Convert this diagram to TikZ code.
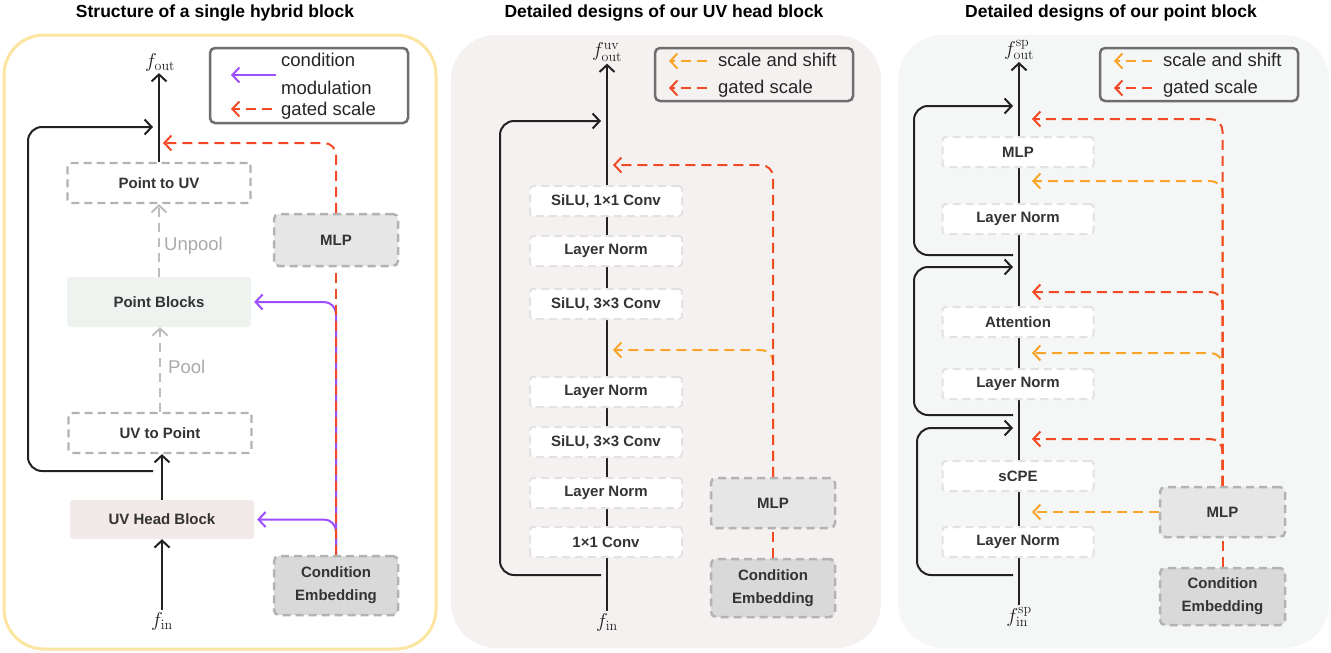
\RequirePackage{fix-cm}
\documentclass[tikz,border=0pt]{standalone}
\usepackage[no-math]{fontspec}
\newfontfamily\lab{Liberation Sans}
\usetikzlibrary{arrows.meta}
\definecolor{ink}{HTML}{222222}
\definecolor{txt}{HTML}{333333}
\definecolor{redc}{HTML}{F24A25}
\definecolor{orac}{HTML}{F9A52C}
\definecolor{purp}{HTML}{9D4EFF}
\definecolor{poolc}{HTML}{BDBDBD}
\definecolor{edgew}{HTML}{E2E2E2}
\definecolor{edgeg}{HTML}{B3B3B3}
\definecolor{mlpf}{HTML}{E6E6E6}
\definecolor{condf}{HTML}{D9D9D9}
\definecolor{legc}{HTML}{6E6E6E}
\definecolor{yelc}{HTML}{FCE5A0}
\definecolor{bgtwo}{HTML}{F5F1F0}
\definecolor{bgthree}{HTML}{F5F7F6}
\definecolor{uvhf}{HTML}{F2EAE9}
\definecolor{pbf}{HTML}{EEF3F0}
\begin{document}
\begin{tikzpicture}[x=1pt,y=-1pt,
 title/.style={font=\lab\bfseries\fontsize{17.5}{20}\selectfont, text=black, inner sep=0pt},
 boxtxt/.style={font=\lab\bfseries\fontsize{15}{18}\selectfont, text=txt, align=center, inner sep=0pt},
 wbox/.style={boxtxt, draw=edgew, fill=white, line width=2pt, dash pattern=on 8pt off 5pt, rounded corners=3pt, minimum width=152pt, minimum height=30pt},
 gbox/.style={boxtxt, draw=edgeg, line width=2.5pt, dash pattern=on 8pt off 5pt, rounded corners=5pt, minimum width=124pt},
 mlpbox/.style={gbox, fill=mlpf, minimum height=50pt},
 condbox/.style={gbox, fill=condf, minimum height=58pt, font=\lab\bfseries\fontsize{15}{23}\selectfont},
 hboxa/.style={boxtxt, draw=edgeg, line width=2.2pt, dash pattern=on 8pt off 5pt, rounded corners=3pt, fill=white, minimum width=183pt, minimum height=40pt},
 plainbox/.style={boxtxt, rounded corners=3pt, minimum width=184pt},
 legbox/.style={draw=legc, line width=2.5pt, rounded corners=5pt, minimum width=198pt, inner sep=0pt},
 legtxt/.style={font=\lab\fontsize{18.5}{20}\selectfont, text=black!85, anchor=mid west, inner sep=0pt},
 graylbl/.style={font=\lab\fontsize{18.5}{20}\selectfont, text=poolc!90!black, anchor=mid west, inner sep=0pt},
 mathlbl/.style={font=\fontsize{20}{20}\selectfont, text=ink, inner sep=2pt},
 tip/.style={-{Straight Barb[length=7pt,width=15pt]}},
 mainln/.style={draw=ink, line width=2pt},
 skipln/.style={mainln, rounded corners=14pt, tip},
 gateln/.style={draw=redc, line width=2pt, dash pattern=on 10pt off 6pt, rounded corners=12pt},
 shiftln/.style={gateln, draw=orac},
 modln/.style={draw=purp, line width=2pt, rounded corners=12pt},
 poolln/.style={draw=poolc, line width=2pt, dash pattern=on 9pt off 6pt, tip}
]
\useasboundingbox (0,0) rectangle (1331,653);
% panels
\draw[yelc, line width=3pt, fill=white, rounded corners=40pt] (4,35) rectangle (436,649);
\fill[bgtwo, rounded corners=45pt] (451,35) rectangle (881,648);
\fill[bgthree, rounded corners=45pt] (898,35) rectangle (1329,648);
\node[title] (t1) at (215,13) {Structure of a single hybrid block};
\node[title] (t2) at (664,13) {Detailed designs of our UV head block};
\node[title] (t3) at (1111,13) {Detailed designs of our point block};

% ---------------- panel 1
\node[mathlbl] (fout1) at (160,62) {$f_{\mathrm{out}}$};
\node[mathlbl] (fin1) at (162,621) {$f_{\mathrm{in}}$};
\node[hboxa] (p2uv) at (159,183) {Point to UV};
\node[plainbox, fill=pbf, minimum height=50pt] (pb) at (159,302) {Point Blocks};
\node[hboxa] (uv2p) at (160,433) {UV to Point};
\node[plainbox, fill=uvhf, minimum height=39pt] (uvh) at (162,519.5) {UV Head Block};
\node[mlpbox, minimum height=52pt] (mlp1) at (336,240) {MLP};
\node[condbox, minimum height=59pt] (cond1) at (336,585.5) {Condition\\Embedding};
\node[graylbl] (unp) at (164,248) {Unpool};
\node[graylbl] (pl) at (168,371) {Pool};

\draw[mainln, tip] (fin1.north) -- (fin1.north |- uvh.south);
\draw[mainln, tip] (uvh.north) -- (uvh.north |- uv2p.south);
\draw[poolln] (uv2p.north) -- (uv2p.north |- pb.south);
\draw[poolln] (pb.north) -- (pb.north |- p2uv.south);
\draw[mainln, tip] (p2uv.north) -- (p2uv.north |- fout1.south);
\coordinate (sk1a) at (153,471);
\coordinate (sk1c) at (28,127);
\coordinate (sk1b) at (153,127);
\draw[skipln] (sk1a) -| (sk1c) -- (sk1b);
\draw[modln, tip] (cond1.north) |- ([xshift=3pt]pb.east);
\draw[modln, tip] (cond1.north) |- ([xshift=3pt]uvh.east);
\coordinate (g1) at (163,143);
\draw[gateln, tip] (mlp1.north) |- (g1);
\draw[gateln] (cond1.north) -- (mlp1.south);

\node[legbox, minimum height=75pt] (leg1) at (309,85.5) {};
\coordinate (l1a) at (276,75); \coordinate (l1b) at (231,75);
\draw[modln, tip] (l1a) -- (l1b);
\coordinate (l1c) at (272,109); \coordinate (l1d) at (231,109);
\draw[gateln, tip] (l1c) -- (l1d);
\node[legtxt] (lt1) at (281,64) {condition};
\node[legtxt] (lt2) at (281,92) {modulation};
\node[legtxt] (lt3) at (281,113) {gated scale};

% ---------------- panel 2
\node[mathlbl] (fout2) at (607,52) {$f^{\mathrm{uv}}_{\mathrm{out}}$};
\node[mathlbl] (fin2) at (607,622) {$f_{\mathrm{in}}$};
\draw[mainln, tip] (fin2.north) -- (fout2.south);
\node[wbox] (a1) at (606,542) {1×1 Conv};
\node[wbox] (a2) at (606,493) {Layer Norm};
\node[wbox] (a3) at (606,442) {SiLU, 3×3 Conv};
\node[wbox] (a4) at (606,392) {Layer Norm};
\node[wbox] (a5) at (606,304) {SiLU, 3×3 Conv};
\node[wbox] (a6) at (606,251) {Layer Norm};
\node[wbox] (a7) at (606,201) {SiLU, 1×1 Conv};
\node[mlpbox] (mlp2) at (773,503) {MLP};
\node[condbox] (cond2) at (773,588) {Condition\\Embedding};
\coordinate (sk2a) at (601,575);
\coordinate (sk2c) at (500,121);
\coordinate (sk2b) at (601,121);
\draw[skipln] (sk2a) -| (sk2c) -- (sk2b);
\coordinate (o2) at (613,350);
\draw[shiftln, tip] (mlp2.north) |- (o2);
\coordinate (g2) at (613,165);
\draw[gateln, tip] (mlp2.north) |- (g2);
\draw[gateln] (cond2.north) -- (mlp2.south);

\node[legbox, minimum height=53pt] (leg2) at (754,74.5) {};
\coordinate (l2a) at (707,61); \coordinate (l2b) at (669,61);
\draw[shiftln, tip] (l2a) -- (l2b);
\coordinate (l2c) at (707,88); \coordinate (l2d) at (669,88);
\draw[gateln, tip] (l2c) -- (l2d);
\node[legtxt] (lt4) at (718,64) {scale and shift};
\node[legtxt] (lt5) at (718,91) {gated scale};

% ---------------- panel 3
\node[mathlbl] (fout3) at (1019,50) {$f^{\mathrm{sp}}_{\mathrm{out}}$};
\node[mathlbl] (fin3) at (1019,617) {$f^{\mathrm{sp}}_{\mathrm{in}}$};
\draw[mainln, tip] (fin3.north) -- (fout3.south);
\node[wbox, minimum width=151pt] (b1) at (1018,542) {Layer Norm};
\node[wbox, minimum width=151pt] (b2) at (1018,476) {sCPE};
\node[wbox, minimum width=151pt] (b3) at (1018,384) {Layer Norm};
\node[wbox, minimum width=151pt] (b4) at (1018,322) {Attention};
\node[wbox, minimum width=151pt] (b5) at (1018,219) {Layer Norm};
\node[wbox, minimum width=151pt] (b6) at (1018,152) {MLP};
\node[mlpbox, minimum width=125pt] (mlp3) at (1222.5,512) {MLP};
\node[condbox, minimum width=125pt, minimum height=57pt] (cond3) at (1222.5,596.5) {Condition\\Embedding};
\coordinate (s1a) at (1013,255); \coordinate (s1c) at (914,106); \coordinate (s1b) at (1013,106);
\coordinate (s2a) at (1013,415); \coordinate (s2c) at (914,267); \coordinate (s2b) at (1013,267);
\coordinate (s3a) at (1013,575); \coordinate (s3c) at (917,428); \coordinate (s3b) at (1013,428);
\draw[skipln] (s1a) -| (s1c) -- (s1b);
\draw[skipln] (s2a) -| (s2c) -- (s2b);
\draw[skipln] (s3a) -| (s3c) -- (s3b);
\coordinate (o31) at (1032,181);
\coordinate (o32) at (1032,353);
\coordinate (o33) at (1032,512);
\draw[shiftln, tip] (mlp3.north) |- (o31);
\draw[shiftln, tip] (mlp3.north) |- (o32);
\draw[shiftln, tip] (mlp3.west) -- (o33);
\coordinate (g31) at (1032,119);
\coordinate (g32) at (1032,292);
\coordinate (g33) at (1032,439);
\draw[gateln, tip] (mlp3.north) |- (g31);
\draw[gateln, tip] (mlp3.north) |- (g32);
\draw[gateln, tip] (mlp3.north) |- (g33);
\draw[gateln] (cond3.north) -- (mlp3.south);

\node[legbox, minimum height=53pt] (leg3) at (1199,74.5) {};
\coordinate (l3a) at (1152,61); \coordinate (l3b) at (1114,61);
\draw[shiftln, tip] (l3a) -- (l3b);
\coordinate (l3c) at (1152,88); \coordinate (l3d) at (1114,88);
\draw[gateln, tip] (l3c) -- (l3d);
\node[legtxt] (lt6) at (1163,64) {scale and shift};
\node[legtxt] (lt7) at (1163,91) {gated scale};
\end{tikzpicture}
\end{document}
